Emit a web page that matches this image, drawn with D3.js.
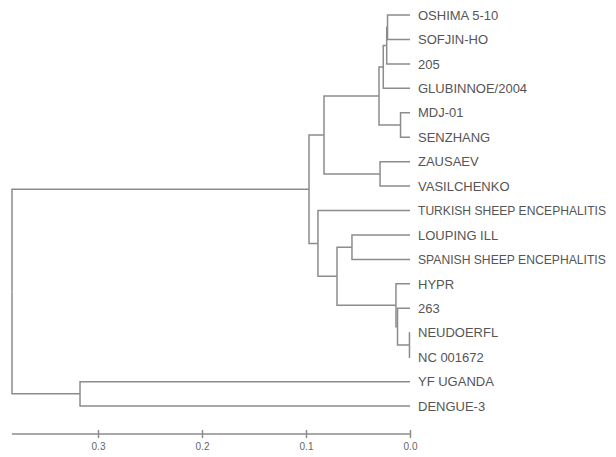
<!DOCTYPE html>
<html>
  <head>
    <script src="https://cdn.jsdelivr.net/npm/d3@7"></script>
    <style>
      html, body { margin:0; padding:0; background:#fff; }
      text { font-family: "Liberation Sans", Arial, sans-serif; }
    </style>
  </head>
  <body>
    <div id="chart"></div>
    <script>
      // leaf labels, top to bottom
      var leafNames = [
        "OSHIMA 5-10", "SOFJIN-HO", "205", "GLUBINNOE/2004", "MDJ-01", "SENZHANG",
        "ZAUSAEV", "VASILCHENKO", "TURKISH SHEEP ENCEPHALITIS", "LOUPING ILL",
        "SPANISH SHEEP ENCEPHALITIS", "HYPR", "263", "NEUDOERFL", "NC 001672",
        "YF UGANDA", "DENGUE-3"
      ];
      // merges: [child a, child b, height]; new node ids start after leaves
      var merges = [
        [0, 1, 0.0216],
        [17, 2, 0.0224],
        [18, 3, 0.0257],
        [4, 5, 0.0091],
        [19, 20, 0.0298],
        [6, 7, 0.0288],
        [21, 22, 0.0827],
        [9, 10, 0.0558],
        [13, 14, 0.0005],
        [12, 25, 0.0120],
        [11, 26, 0.0135],
        [24, 27, 0.0702],
        [8, 28, 0.0885],
        [23, 29, 0.0971],
        [15, 16, 0.3173],
        [30, 31, 0.3827]
      ];
      var tickValues = [0.3, 0.2, 0.1, 0.0];

      var W = 616, H = 457;
      var svg = d3.select("#chart").append("svg").attr("width", W).attr("height", H);

      // build nested tree from merges
      var nodes = leafNames.map(function(n) { return { name: n, height: 0 }; });
      merges.forEach(function(m) {
        nodes.push({ children: [nodes[m[0]], nodes[m[1]]], height: m[2] });
      });
      var root = d3.hierarchy(nodes[nodes.length - 1]);

      var x = d3.scaleLinear().domain([0, 0.3]).range([410, 98]);
      var cluster = d3.cluster().size([415.5, 1]).separation(function() { return 1; });
      cluster(root);
      root.each(function(d) { d.py = d.x + 2.8; d.px = x(d.data.height); });

      var lineColor = "#8c8c8c";

      svg.append("g").selectAll("path")
        .data(root.links())
        .join("path")
        .attr("fill", "none")
        .attr("stroke", lineColor)
        .attr("stroke-width", 1.5)
        .attr("d", function(l) {
          return "M" + l.source.px + "," + l.source.py +
                 "V" + l.target.py + "H" + l.target.px;
        });

      // labels; shrink the long ones so they stay inside the frame
      var maxW = 188;
      svg.append("g").selectAll("text")
        .data(root.leaves())
        .join("text")
        .attr("x", function(d) { return d.px + 8; })
        .attr("y", function(d) { return d.py; })
        .attr("dy", "0.36em")
        .attr("fill", "#555")
        .style("font-size", "13px")
        .text(function(d) { return d.data.name; })
        .each(function() {
          var w = this.getComputedTextLength();
          if (w > maxW) d3.select(this).style("font-size", (13 * maxW / w).toFixed(2) + "px");
        });

      // scale axis
      var axisY = 434;
      svg.append("line")
        .attr("x1", x(root.data.height)).attr("x2", x(0))
        .attr("y1", axisY).attr("y2", axisY)
        .attr("stroke", lineColor).attr("stroke-width", 1.5);

      var axis = d3.axisBottom(x).tickValues(tickValues).tickFormat(d3.format(".1f")).tickSize(8).tickPadding(5);
      var ag = svg.append("g").attr("transform", "translate(0," + (axisY - 4) + ")").call(axis);
      ag.select(".domain").remove();
      ag.selectAll(".tick line").attr("stroke", lineColor).attr("stroke-width", 1.5);
      ag.selectAll(".tick text").attr("fill", "#666").style("font-size", "10px")
        .style("font-family", "'Liberation Sans', Arial, sans-serif");
    </script>
  </body>
</html>
